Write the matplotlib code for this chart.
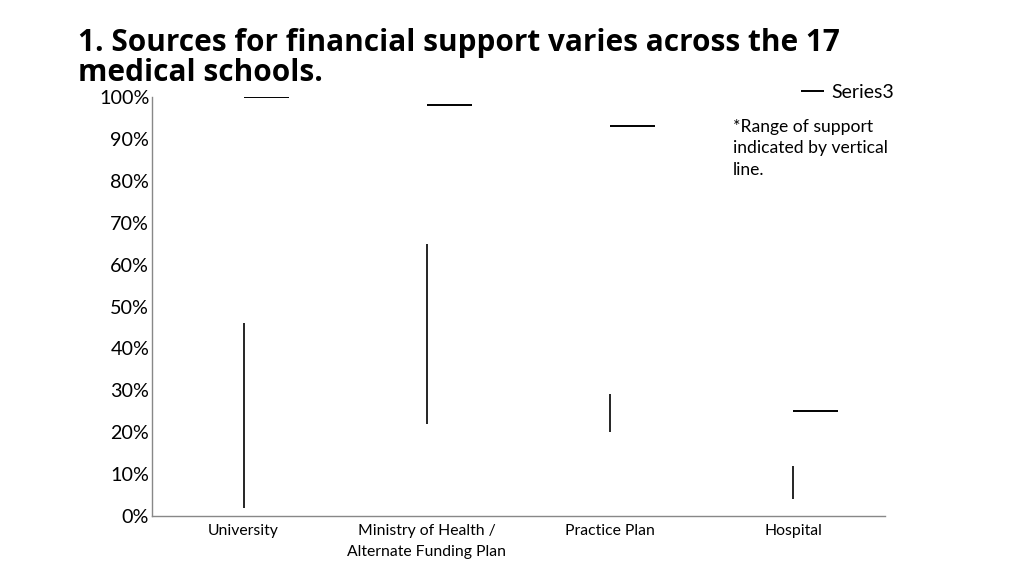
import matplotlib
matplotlib.use('Agg')
import matplotlib.pyplot as plt
from matplotlib.ticker import PercentFormatter

# categories and low/high/close values (percent)
categories = ['University', 'Ministry of Health /\nAlternate Funding Plan', 'Practice Plan', 'Hospital']
low = [2, 22, 20, 4]
high = [46, 65, 29, 12]
close = [100, 98, 93, 25]

fig = plt.figure(figsize=(10.24, 5.75), dpi=100)
ax = fig.add_axes([152/1024, 1-516/575, 733/1024, 419/575])

xs = [i + 0.5 for i in range(len(categories))]
## range of support as vertical lines
ax.vlines(xs, low, high, colors='black', lw=1.2)
## "Series3" ticks to the right of the center
ax.hlines(close, xs, [x + 0.245 for x in xs], colors='black', lw=1.4, label='Series3')

ax.set_xlim(0, 4)
ax.set_ylim(0, 100)
ax.set_yticks(range(0, 101, 10))
ax.yaxis.set_major_formatter(PercentFormatter(decimals=0))
ax.set_xticks(xs)
ax.set_xticklabels(categories, fontsize=11.3, family='Lato', linespacing=1.65)
for lab in ax.get_yticklabels():
    lab.set_family('Lato')
    lab.set_fontsize(14.2)
ax.tick_params(axis='both', length=0, pad=2)
ax.tick_params(axis='x', pad=6)
for s in ['top', 'right']:
    ax.spines[s].set_visible(False)
for s in ['left', 'bottom']:
    ax.spines[s].set_color('#888888')
    ax.spines[s].set_linewidth(1)

leg = fig.legend(loc='upper left', bbox_to_anchor=(783/1024, 1-66/575), frameon=False,
                 prop={'family': 'Lato', 'size': 14}, handlelength=1.2, handletextpad=0.4)

fig.text(733/1024, 1-119/575, '*Range of support\nindicated by vertical\nline.', fontsize=12.6,
         family='Lato', va='top', ha='left', linespacing=1.42)

fig.text(78/1024, 1-28/575, '1. Sources for financial support varies across the 17\nmedical schools.',
         fontsize=21.4, fontweight='bold', family='Open Sans', va='top', ha='left', linespacing=1.0)

fig.savefig('out.png', dpi=100)
